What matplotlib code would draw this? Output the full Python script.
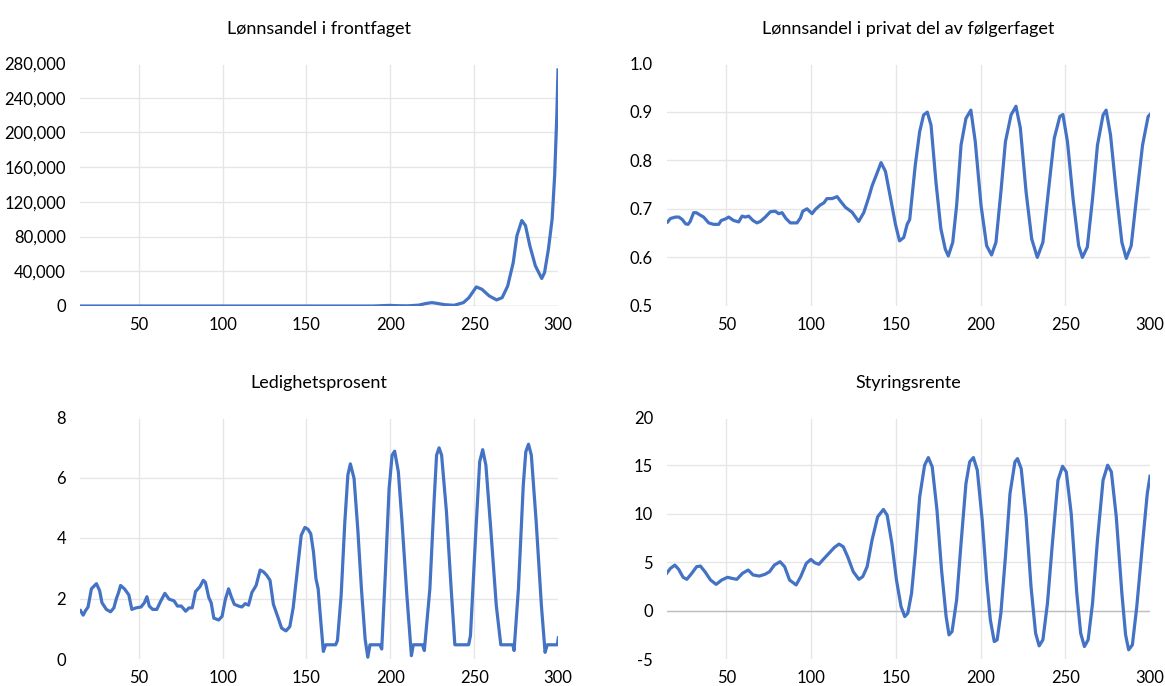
import matplotlib
matplotlib.use("Agg")
import matplotlib.pyplot as plt
from matplotlib.ticker import FuncFormatter

plt.rcParams['font.family'] = ['Lato', 'DejaVu Sans']

# ---------------- data ----------------
titles = ["Lønnsandel i frontfaget", "Lønnsandel i privat del av følgerfaget",
          "Ledighetsprosent", "Styringsrente"]

front_x = [15, 50, 100, 150, 190, 199.5, 205, 210.5, 217, 221, 224.8, 228, 232.5, 238, 243.6, 246.9,
           251.3, 254.6, 259, 263.4, 266.7, 270, 273.3, 275.5, 278.4, 280.6, 283.2, 286.5, 290.3,
           292, 294.3, 296.5, 298, 299.3, 300]
front_y = [0, 0, 0, 0, 0, 700, 300, 200, 1000, 2800, 3900, 3000, 1500, 800, 3900, 9600,
           22000, 19300, 11600, 7000, 9600, 23000, 50000, 81000, 98500, 92700, 69500, 46300, 31700,
           38600, 65700, 100000, 150000, 220000, 272000]

privat_x = [15.4, 17, 20, 22, 24, 26, 27.4, 28.7, 30.7, 32.3, 34.6, 36.6, 39.6, 42.5, 45.5, 47,
            49.4, 51.4, 54.3, 57.3, 59.3, 61.2, 63.2, 65.7, 68.1, 70.1, 73, 76, 78.9, 80.9, 82.9,
            85.2, 87.8, 91.7, 93.7, 95.1, 97.6, 100.6, 102.6, 105.5, 107.5, 109.4, 112.4, 115.4,
            117.3, 120.3, 124.2, 128.1, 131.1, 134, 136, 139, 141.3, 143.9, 146.9, 149.8, 152.2,
            154.7, 156.7, 158.2, 161.5, 164.1, 166.4, 168.6, 170.8, 173.7, 176.6, 179.2, 181,
            183.6, 185.9, 188.5, 191.4, 194.3, 196.9, 200.3, 203.6, 206.5, 209.1, 212, 214.7,
            218, 220.9, 223.5, 226.9, 230.2, 233.5, 236.8, 240.2, 243.5, 246.8, 248.6, 251.3,
            254.6, 257.9, 260.1, 263, 266.1, 269, 272.3, 274.1, 276.7, 280.1, 283.4, 286, 288.9,
            292.2, 295.6, 298.9, 300]
privat_y = [0.673, 0.68, 0.683, 0.683, 0.678, 0.669, 0.668, 0.674, 0.692, 0.692, 0.687, 0.683,
            0.671, 0.668, 0.668, 0.676, 0.679, 0.683, 0.676, 0.673, 0.685, 0.683, 0.685, 0.676,
            0.671, 0.674, 0.683, 0.694, 0.695, 0.69, 0.692, 0.68, 0.671, 0.671, 0.681, 0.695,
            0.7, 0.69, 0.699, 0.708, 0.712, 0.721, 0.721, 0.725, 0.716, 0.703, 0.693, 0.674,
            0.692, 0.723, 0.747, 0.774, 0.795, 0.777, 0.722, 0.668, 0.634, 0.641, 0.668, 0.678,
            0.79, 0.859, 0.893, 0.899, 0.872, 0.755, 0.659, 0.617, 0.603, 0.631, 0.707, 0.831,
            0.886, 0.903, 0.838, 0.707, 0.624, 0.605, 0.631, 0.734, 0.838, 0.893, 0.911, 0.866,
            0.734, 0.638, 0.6, 0.631, 0.741, 0.845, 0.89, 0.894, 0.838, 0.721, 0.624, 0.6,
            0.621, 0.721, 0.831, 0.893, 0.903, 0.852, 0.734, 0.631, 0.598, 0.624, 0.728, 0.831,
            0.89, 0.894]

ledig_x = [15.3, 16.9, 18.2, 19.8, 21.8, 23.8, 24.8, 26.7, 28.1, 30.7, 33.2, 35.2, 36.6, 38,
           39.2, 41.5, 44.1, 45.9, 48.4, 51.4, 53.4, 54.9, 56.3, 58.3, 60.8, 63.2, 65.6, 68.1,
           71.1, 73.1, 75.4, 78, 80, 81.9, 83.9, 86.5, 88.5, 89.8, 91.8, 93.2, 94.8, 97.7, 99.7,
           101.7, 103.6, 105.2, 107, 109.6, 111.5, 113.5, 115.5, 117.5, 120, 122.4, 124.4,
           126.3, 128.3, 130.3, 133.2, 135.2, 137.8, 140.1, 142.1, 144.5, 146.9, 149.1, 150.9,
           152.6, 154.2, 155.7, 157, 158.6, 160.1, 161.5, 167.4, 168.5, 170.7, 172.9, 174.7,
           176.2, 178.4, 180.6, 182.8, 185, 186.6, 187.9, 193.8, 194.9, 197.1, 199.3, 201.1,
           202.6, 204.8, 207, 209.9, 212.6, 213.7, 219.2, 220.3, 223.6, 226.2, 227.6, 229.1,
           230.6, 233.5, 236.3, 238.5, 246.7, 247.8, 251.1, 253.3, 255.1, 257, 259.9, 263.2,
           265.9, 273.1, 273.8, 276.4, 279.3, 280.8, 282.4, 284.1, 287, 290.1, 292.3, 293.6,
           299.6, 300.2]
ledig_y = [1.6, 1.45, 1.59, 1.72, 2.32, 2.43, 2.49, 2.26, 1.86, 1.64, 1.56, 1.69, 1.98, 2.2,
           2.43, 2.32, 2.12, 1.64, 1.69, 1.72, 1.86, 2.06, 1.75, 1.64, 1.64, 1.92, 2.17, 1.98,
           1.92, 1.75, 1.75, 1.58, 1.69, 1.69, 2.23, 2.39, 2.6, 2.53, 2.03, 1.86, 1.35, 1.29,
           1.41, 1.98, 2.32, 2.06, 1.81, 1.75, 1.72, 1.83, 1.78, 2.2, 2.43, 2.94, 2.88, 2.77,
           2.6, 1.81, 1.35, 1.02, 0.93, 1.07, 1.69, 2.9, 4.09, 4.35, 4.29, 4.14, 3.54, 2.65,
           2.32, 1.22, 0.25, 0.47, 0.47, 0.61, 2.1, 4.53, 6.08, 6.45, 5.97, 4.31, 2.32, 0.66,
           0.06, 0.47, 0.47, 0.33, 2.87, 5.64, 6.74, 6.87, 6.19, 4.53, 2.1, 0.11, 0.47, 0.47,
           0.28, 2.32, 5.3, 6.74, 6.98, 6.74, 4.86, 2.32, 0.47, 0.47, 0.77, 4.31, 6.52, 6.92,
           6.41, 4.31, 1.77, 0.47, 0.47, 0.28, 2.32, 5.75, 6.85, 7.1, 6.74, 4.53, 1.77, 0.22,
           0.47, 0.47, 0.7]

rente_x = [14.8, 17, 19.6, 21.9, 24.5, 26.7, 29.6, 32.5, 34.7, 37.4, 40.7, 44, 47.3, 50.7,
           53.3, 56.2, 59.5, 62.9, 65.8, 69.5, 72.8, 75.5, 78.4, 81.7, 84.4, 87.3, 91.2, 93.9,
           97.2, 99.9, 102.1, 104.6, 107.2, 110.5, 113.8, 116.5, 119, 121.6, 124.9, 128.2,
           130.5, 133.1, 136, 139.3, 142.7, 144.9, 147.7, 150.4, 153.1, 155.3, 157.1, 159.3,
           161.5, 164.1, 167, 169.2, 171.5, 174.3, 177, 179.7, 181.4, 183.2, 185.9, 188.5,
           191.4, 193.6, 195.8, 198.1, 201, 203.6, 205.8, 208.1, 209.8, 212, 214.7, 217.4,
           220.3, 221.8, 224, 226.9, 229.8, 232.5, 234.6, 236.8, 239.5, 242.4, 245.7, 248.4,
           250.6, 253.5, 256.8, 259.1, 261.3, 263.5, 266.1, 269, 272.3, 275, 277.2, 280.1,
           283.4, 285.6, 287.4, 289.6, 292.2, 295.6, 298.4, 300]
rente_y = [3.85, 4.36, 4.7, 4.26, 3.44, 3.23, 3.85, 4.54, 4.6, 4.02, 3.16, 2.71, 3.16, 3.44,
           3.33, 3.23, 3.85, 4.19, 3.68, 3.57, 3.75, 4.02, 4.71, 5.05, 4.54, 3.16, 2.65, 3.51,
           4.88, 5.29, 4.95, 4.78, 5.29, 5.91, 6.53, 6.87, 6.6, 5.57, 4.02, 3.23, 3.51, 4.54,
           7.29, 9.69, 10.45, 9.86, 6.94, 3.16, 0.41, -0.62, -0.27, 1.79, 5.91, 11.75, 15.02,
           15.81, 14.85, 10.38, 4.19, -0.62, -2.51, -2.16, 1.1, 6.94, 13.13, 15.36, 15.81,
           14.5, 9.35, 3.16, -0.96, -3.2, -3.02, -0.27, 5.57, 12.1, 15.36, 15.7, 14.67, 9.69,
           2.47, -2.34, -3.64, -3.02, 0.76, 6.94, 13.47, 14.91, 14.33, 10.03, 1.79, -2.34,
           -3.71, -3.02, 0.76, 7.29, 13.47, 15.02, 14.33, 9.69, 1.79, -2.51, -4.05, -3.54,
           0.41, 6.94, 12.1, 13.88]

x_ticks = [50, 100, 150, 200, 250, 300]
front_ticks = [0, 40000, 80000, 120000, 160000, 200000, 240000, 280000]
privat_ticks = [0.5, 0.6, 0.7, 0.8, 0.9, 1.0]
ledig_ticks = [0, 2, 4, 6, 8]
rente_ticks = [-5, 0, 5, 10, 15, 20]

# ---------------- drawing ----------------
W, H = 1165, 686
fig = plt.figure(figsize=(W / 100, H / 100), dpi=100)
LINE = '#4472C4'
GRID = '#E6E6E6'


def make_ax(l, r, t, b):
    return fig.add_axes([l / W, 1 - b / H, (r - l) / W, (b - t) / H])


boxes = [(80, 558, 63, 306), (667, 1150, 63, 306), (80, 558, 417, 659), (667, 1150, 417, 659)]
series = [(front_x, front_y, front_ticks, lambda v, p: f"{int(round(v)):,}"),
          (privat_x, privat_y, privat_ticks, lambda v, p: f"{v:.1f}"),
          (ledig_x, ledig_y, ledig_ticks, lambda v, p: f"{int(round(v))}"),
          (rente_x, rente_y, rente_ticks, lambda v, p: f"{int(round(v))}".replace('\u2212', '-'))]

for i, (box, (xs, ys, yt, fmt)) in enumerate(zip(boxes, series)):
    ax = make_ax(*box)
    ax.set_xlim(15, 300)
    ax.set_ylim(yt[0], yt[-1])
    for s in ax.spines.values():
        s.set_visible(False)
    # horizontal gridlines (interior)
    for v in yt[1:-1]:
        ax.axhline(v, color=GRID, lw=1.0, zorder=0)
    for v in x_ticks[:-1]:
        ax.axvline(v, ymax=0.99, color=GRID, lw=1.0, zorder=0)
    if i in (0, 3):
        ax.axhline(0, color='#BFBFBF', lw=1.0, zorder=1)
    ax.plot(xs, ys, color=LINE, lw=2.3, solid_joinstyle='round', zorder=3)
    ax.set_xticks(x_ticks)
    ax.set_yticks(yt)
    ax.yaxis.set_major_formatter(FuncFormatter(fmt))
    ax.tick_params(length=0, labelsize=12, colors='#000000', pad=8)
    ax.tick_params(axis='y', pad=10)
    ax.set_title(titles[i], fontsize=13, pad=21, color='#000000')

fig.savefig('out.png', dpi=100, facecolor='white')
